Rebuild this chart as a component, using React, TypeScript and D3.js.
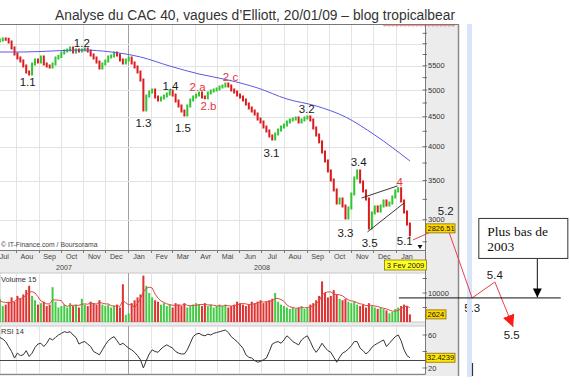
import React from 'react';
import * as d3 from 'd3';

// ---------- data ----------
const startDate = '2007-07-02';
const stepDays = 4;

const closes = [
  6040, 6064, 6088, 6112, 6105, 6040, 5899, 5761, 5671, 5605,
  5495, 5367, 5325, 5539, 5627, 5583, 5694, 5539, 5495, 5474,
  5539, 5671, 5705, 5784, 5830, 5853, 5899, 5807, 5853, 5830,
  5853, 5876, 5830, 5739, 5671, 5583, 5452, 5539, 5605, 5694,
  5716, 5784, 5739, 5627, 5561, 5627, 5671, 5561, 5474, 5367,
  5200, 4622, 4883, 4961, 5000, 4864, 4807, 4845, 4883, 4922,
  4980, 4902, 4788, 4695, 4603, 4531, 4695, 4807, 4864, 4902,
  4941, 4864, 4850, 4941, 4980, 5000, 5020, 5059, 5079, 5119,
  5079, 5000, 4960, 4902, 4864, 4807, 4732, 4658, 4603, 4549,
  4460, 4408, 4322, 4255, 4172, 4123, 4205, 4271, 4322, 4356,
  4408, 4443, 4460, 4478, 4408, 4443, 4478, 4496, 4443, 4305,
  4188, 4076, 3917, 3781, 3635, 3508, 3373, 3204, 3255, 3167,
  3021, 3142, 3320, 3536, 3635, 3481, 3360, 3255, 2904, 3081,
  3155, 3105, 3167, 3230, 3179, 3204, 3281, 3360, 3390, 3230,
  3093, 2950, 2826.51,
];

const volumes = [
  6500, 7500, 8000, 5500, 6000, 7000, 8500, 7000, 9000, 8000,
  9500, 11000, 12500, 9000, 7500, 6000, 6500, 7000, 5500, 6000,
  12000, 7000, 5000, 5500, 6000, 5000, 6500, 5500, 6000, 5000,
  8000, 6000, 5500, 7000, 6500, 6000, 7500, 6000, 5500, 6000,
  5000, 5500, 6000, 5000, 13000, 2500, 3000, 6500, 7500, 8500,
  9500, 16000, 12500, 10000, 8500, 7500, 7000, 6000, 6500, 5500,
  6000, 5000, 6500, 6000, 5500, 6500, 5000, 5500, 6000, 6500,
  6000, 5500, 6500, 5500, 6000, 5000, 5500, 6000, 5500, 6000,
  5000, 5500, 6000, 7000, 6500, 6000, 5500, 6000, 7000, 6500,
  7000, 7500, 6500, 7000, 7500, 8000, 10000, 7000, 6000, 5500,
  5000, 4500, 5000, 4500, 5000, 5500, 4500, 5000, 6000, 6500,
  7500, 9000, 14000, 10000, 8500, 9000, 11000, 9500, 8000, 7500,
  8000, 7000, 6500, 7000, 6000, 5500, 6000, 5000, 6500, 5500,
  5000, 4500, 5000, 4500, 4000, 3000, 3500, 4500, 5000, 5500,
  6000, 5500, 2624,
];

const rsiValues = [
  57, 58, 57, 55, 52, 46, 40, 32, 38, 35,
  36, 41, 34, 38, 45, 49, 50, 46, 50, 56,
  54, 57, 60, 62, 64, 63, 64, 60, 57, 49,
  51, 52, 49, 46, 40, 38, 36, 42, 48, 53,
  56, 58, 53, 48, 50, 47, 44, 42, 39, 35,
  30, 20, 29, 37, 42, 40, 39, 43, 46, 48,
  46, 44, 40, 38, 37, 37, 42, 50, 58, 61,
  62, 60, 59, 61, 60, 62, 63, 64, 65, 66,
  63, 58, 55, 52, 48, 44, 36, 33, 32, 29,
  27, 28, 30, 32, 40, 49, 51, 52, 50, 54,
  59, 56, 52, 50, 48, 54, 57, 59, 52, 44,
  39, 44, 50, 45, 41, 39, 33, 27, 33, 38,
  40, 43, 47, 52, 52, 44, 41, 37, 40, 45,
  48, 50, 52, 54, 46, 50, 54, 58, 60, 53,
  42, 35, 32.4239,
];

const maIndex = [0, 10, 20, 30, 40, 50, 60, 70, 80, 90, 100, 110, 120, 130, 142];
const maValues = [5807, 5807, 5830, 5853, 5807, 5694, 5495, 5325, 5200, 5040, 4826, 4695, 4496, 4188, 3781];

const monthLabels = ['Jul', 'Aou', 'Sep', 'Oct', 'Nov', 'Dec', 'Jan', 'Fev', 'Mar', 'Avr', 'Mai', 'Jun',
  'Jul', 'Aou', 'Sep', 'Oct', 'Nov', 'Dec', 'Jan'];
const yearLabels = ['2007', '2008'];
const priceTickLabels = [5500, 5000, 4500, 4000, 3500, 3000];
const priceGridValues = [6000, 5500, 5000, 4500, 4000, 3500, 3000];
const volumeTickLabels = [10000];
const volumeTicks = [5000, 10000, 15000];
const rsiTicks = [20, 40, 60];
const rsiTickLabels = [20, 60];
const rsiLevel = 30;

const waveTexts = ['1.1', '1.2', '1.3', '1.4', '1.5', '2.a', '2.b', '2.c', '3.1', '3.2', '3.3', '3.4', '3.5', '4', '5.1', '5.2', '5.3', '5.4', '5.5'];
const waveDates = ['2007-08-17', '2007-10-30', '2008-01-22', '2008-02-28', '2008-03-16', '2008-04-05', '2008-04-20', '2008-05-20',
  '2008-07-15', '2008-09-01', '2008-10-24', '2008-11-11', '2008-11-26', '2009-01-06', '2009-01-13', '2009-03-10',
  '2009-04-15', '2009-05-16', '2009-06-08'];
const waveValues = [5079, 5922, 4322, 5000, 4238, 4980, 4622, 5180, 3841, 4567, 2803, 3707, 2695, 3427, 2716, 3057, 2085, 2376, 1876];

const projectionDates = ['2009-01-24', '2009-03-11', '2009-04-15', '2009-05-16', '2009-06-10'];
const projectionValues = [2770, 2939, 2205, 2348, 1967];

const wedgeUpperDates = ['2008-11-15', '2009-01-03'];
const wedgeUpperValues = [3268, 3427];
const wedgeLowerDates = ['2008-11-23', '2009-01-12'];
const wedgeLowerValues = [2859, 3204];

const supportValue = 2205;
const supportDates = ['2009-01-05', '2009-08-14'];
const supportArrowDate = '2009-07-13';
const supportText = ['Plus bas de', '2003'];

const lastPriceLabel = '2826.51';
const lastVolumeLabel = '2624';
const lastRsiLabel = '32.4239';
const cursorDateLabel = '3 Fev 2009';
const titleText = "Analyse du CAC 40, vagues d\u2019Elliott, 20/01/09 \u2013 blog tropicalbear";
const sourceText = '\u00a9 IT-Finance.com / Boursorama';

// ---------- component ----------
const sans = "'Liberation Sans', Arial, Helvetica, sans-serif";
const serif = "'Liberation Serif', 'Times New Roman', serif";

export default function App() {
  const W = 570, H = 392;
  const parse = d3.timeParse('%Y-%m-%d');
  const t0 = parse(startDate) as Date;
  const dates = closes.map((_, i) => d3.timeDay.offset(t0, i * stepDays));

  const x = d3.scaleTime().domain([new Date(2008, 0, 1), new Date(2009, 0, 1)]).range([128, 396]);
  const yP = d3.scaleLog().domain([2663, 6458]).range([250, 25]);
  const yV = d3.scaleLinear().domain([0, 16900]).range([322, 273]);
  const yR = d3.scaleLinear().domain([12.7, 70.9]).range([374, 326]);

  const pL = 0, pR = 425.5;
  const priceTop = 25, priceBot = 250;
  const volTop = 273, volBot = 322;
  const rsiTop = 326, rsiBot = 374;
  const chartRight = 459;

  const months = d3.timeMonth.range(new Date(2007, 6, 1), new Date(2009, 1, 1));
  const years = [new Date(2007, 0, 1), new Date(2008, 0, 1), new Date(2009, 0, 1)];

  const green = '#2fc52f';
  const red = '#dc1c1c';

  const maLine = d3.line<number>()
    .x((_, k) => x(dates[maIndex[k]]))
    .y((v) => yP(v))
    .curve(d3.curveMonotoneX)(maValues) as string;

  const volMA = volumes.map((_, i) => {
    const s = volumes.slice(Math.max(0, i - 3), i + 1);
    return d3.mean(s) as number;
  });
  const volMALine = d3.line<number>().x((_, i) => x(dates[i])).y((v) => yV(v))(volMA) as string;
  const rsiLine = d3.line<number>().x((_, i) => x(dates[i])).y((v) => yR(v))(rsiValues) as string;

  const projPts = projectionDates.map((d, k) => [x(parse(d) as Date), yP(projectionValues[k])] as [number, number]);
  const projPath = d3.line()(projPts) as string;

  const wedge = (ds: string[], vs: number[]) => ds.map((d, k) => [x(parse(d) as Date), yP(vs[k])] as [number, number]);
  const wU = wedge(wedgeUpperDates, wedgeUpperValues);
  const wL = wedge(wedgeLowerDates, wedgeLowerValues);

  const supY = yP(supportValue);
  const supX1 = x(parse(supportDates[0]) as Date);
  const supX2 = x(parse(supportDates[1]) as Date);
  const arrowX = x(parse(supportArrowDate) as Date);
  const boxW = 89, boxH = 40;
  const boxX = arrowX - 59;
  const boxY = supY - 80;

  const redWaves = new Set(['2.a', '2.b', '2.c', '4']);

  const lastClose = closes[closes.length - 1];
  const lastVol = volumes[volumes.length - 1];
  const lastRsi = rsiValues[rsiValues.length - 1];

  const squig: [number, number][] = d3.range(0, 37).map((k) => [383 + k * 2, k % 2 ? 26.2 : 24.8]);

  const axisColor = '#7a7a7a';
  const gridColor = '#e3e3e3';

  return (
    <svg width={W} height={H} style={{ position: 'absolute', left: 0, top: 0, background: '#fff' }} fontFamily={sans}>
      <defs>
        <clipPath id="pClip"><rect x={pL} y={priceTop} width={pR - pL} height={priceBot - priceTop} /></clipPath>
        <clipPath id="vClip"><rect x={pL} y={volTop} width={pR - pL} height={volBot - volTop} /></clipPath>
        <clipPath id="rClip"><rect x={pL} y={rsiTop} width={pR - pL} height={rsiBot - rsiTop} /></clipPath>
        <marker id="redArrow" viewBox="0 0 10 10" refX="10" refY="5" markerWidth="12" markerHeight="12" markerUnits="userSpaceOnUse" orient="auto">
          <path d="M0,0 L10,5 L0,10 z" fill="#ff1a1a" />
        </marker>
        <marker id="blackArrow" viewBox="0 0 10 10" refX="10" refY="5" markerWidth="9" markerHeight="9" markerUnits="userSpaceOnUse" orient="auto">
          <path d="M0,0 L10,5 L0,10 z" fill="#000" />
        </marker>
      </defs>

      <rect x={0} y={0} width={W} height={H} fill="#fff" />
      <rect x={0} y={24} width={chartRight} height={376 - 24} fill="#ececec" />
      <rect x={pL} y={priceTop} width={pR - pL} height={priceBot - priceTop} fill="#fff" />
      <rect x={pL} y={volTop} width={pR - pL} height={volBot - volTop} fill="#fff" stroke="#c8c8c8" strokeWidth={1} />
      <rect x={pL} y={rsiTop} width={pR - pL} height={rsiBot - rsiTop} fill="#fff" stroke="#c8c8c8" strokeWidth={1} />

      {months.map((m, k) => {
        const xx = Math.round(x(m)) + 0.5;
        if (xx < 0 || xx > pR) return null;
        const isYear = m.getMonth() === 0 && m.getFullYear() === 2008;
        const col = isYear ? '#a0a0a0' : gridColor;
        return (
          <g key={'mg' + k}>
            <line x1={xx} x2={xx} y1={priceTop} y2={priceBot} stroke={col} />
            <line x1={xx} x2={xx} y1={volTop} y2={volBot} stroke={col} />
            <line x1={xx} x2={xx} y1={rsiTop} y2={rsiBot} stroke={col} />
            <line x1={xx} x2={xx} y1={priceBot} y2={priceBot + 3} stroke={axisColor} />
          </g>
        );
      })}
      {priceGridValues.map((v) => (
        <line key={'hg' + v} x1={pL} x2={pR} y1={Math.round(yP(v)) + 0.5} y2={Math.round(yP(v)) + 0.5} stroke={gridColor} />
      ))}

      <g clipPath="url(#pClip)">
        {dates.map((d, i) => {
          const o = i ? closes[i - 1] : closes[i];
          const c = closes[i];
          const up = c >= o;
          const y1 = yP(Math.max(o, c)) - 1.5;
          const y2 = yP(Math.min(o, c)) + 1.5;
          return <rect key={'c' + i} x={x(d) - 1} y={y1} width={2} height={y2 - y1} fill={up ? green : red} />;
        })}
        <path d={maLine} fill="none" stroke="#5a5ae0" strokeWidth={1} />
        <line x1={wU[0][0]} y1={wU[0][1]} x2={wU[1][0]} y2={wU[1][1]} stroke="#222" strokeWidth={0.9} />
        <line x1={wL[0][0]} y1={wL[0][1]} x2={wL[1][0]} y2={wL[1][1]} stroke="#222" strokeWidth={0.9} />
      </g>

      <g clipPath="url(#vClip)">
        {dates.map((d, i) => {
          const o = i ? closes[i - 1] : closes[i];
          const up = closes[i] >= o;
          return <rect key={'v' + i} x={x(d) - 1} y={yV(volumes[i])} width={2} height={volBot - yV(volumes[i])} fill={up ? green : red} opacity={0.9} />;
        })}
        <path d={volMALine} fill="none" stroke="#e04848" strokeWidth={1} />
      </g>

      <g clipPath="url(#rClip)">
        <line x1={pL} x2={pR} y1={Math.round(yR(rsiLevel)) + 0.5} y2={Math.round(yR(rsiLevel)) + 0.5} stroke="#444" strokeWidth={1} />
        <path d={rsiLine} fill="none" stroke="#333" strokeWidth={1} />
      </g>
      <line x1={pL} x2={pR} y1={rsiBot + 0.5} y2={rsiBot + 0.5} stroke="#888" />

      <line x1={pL} x2={pR} y1={priceBot + 0.5} y2={priceBot + 0.5} stroke={axisColor} />
      <line x1={pR} x2={pR} y1={priceTop} y2={rsiBot} stroke={axisColor} />
      <line x1={0} x2={chartRight} y1={24.5} y2={24.5} stroke="#777" />
      <line x1={chartRight - 0.5} x2={chartRight - 0.5} y1={24} y2={376} stroke="#8a8a8a" strokeWidth={1.5} />

      {d3.range(2750, 6500, 250).map((v) => (
        <line key={'pt' + v} x1={pR - 3} x2={pR + 1.5} y1={yP(v)} y2={yP(v)} stroke="#555" strokeWidth={0.8} />
      ))}
      {priceTickLabels.map((v) => (
        <text key={'pl' + v} x={pR + 2.5} y={yP(v)} dy="0.35em" fontSize={7.5} fill="#333">{v}</text>
      ))}
      {volumeTicks.map((v) => (
        <line key={'vt' + v} x1={pR - 3} x2={pR + 1.5} y1={yV(v)} y2={yV(v)} stroke="#555" strokeWidth={0.8} />
      ))}
      {volumeTickLabels.map((v) => (
        <text key={'vl' + v} x={pR + 2.5} y={yV(v)} dy="0.35em" fontSize={7.5} fill="#333">{v}</text>
      ))}
      {rsiTicks.map((v) => (
        <line key={'rt' + v} x1={pR - 3} x2={pR + 1.5} y1={yR(v)} y2={yR(v)} stroke="#555" strokeWidth={0.8} />
      ))}
      {rsiTickLabels.map((v) => (
        <text key={'rl' + v} x={pR + 2.5} y={yR(v)} dy="0.35em" fontSize={7.5} fill="#333">{v}</text>
      ))}

      {months.map((m, k) => {
        const cx = x(d3.timeDay.offset(m, 15));
        if (cx < 0 || cx > pR) return null;
        return <text key={'ml' + k} x={cx} y={258.5} textAnchor="middle" fontSize={7.2} fill="#444">{monthLabels[k]}</text>;
      })}
      {yearLabels.map((lab, k) => {
        const a = Math.max(pL, x(years[k]));
        const b = Math.min(pR, x(years[k + 1]));
        return <text key={'yl' + k} x={(a + b) / 2} y={270} textAnchor="middle" fontSize={7.2} fill="#444">{lab}</text>;
      })}

      <text x={1} y={247} fontSize={6.8} fill="#444">{sourceText}</text>
      <text x={1} y={282} fontSize={7.5} fill="#333">Volume 15</text>
      <text x={1} y={334} fontSize={7.5} fill="#333">RSI 14</text>

      {waveTexts.map((t, k) => (
        <text key={'w' + k} x={x(parse(waveDates[k]) as Date)} y={yP(waveValues[k])} textAnchor="middle"
          fontSize={11.5} fill={redWaves.has(t) ? '#e8323c' : '#1a1a1a'}>{t}</text>
      ))}

      <rect x={467} y={24} width={5} height={353} fill="#d9e4f9" />
      <line x1={472.5} x2={472.5} y1={363} y2={376} stroke="#333" strokeWidth={1.2} />

      <path d={projPath} fill="none" stroke="#e8404a" strokeWidth={1} markerEnd="url(#redArrow)" />
      <line x1={supX1} x2={supX2} y1={supY} y2={supY} stroke="#111" strokeWidth={1} />
      <line x1={arrowX} x2={arrowX} y1={boxY + boxH} y2={supY - 0.5} stroke="#111" strokeWidth={1} markerEnd="url(#blackArrow)" />
      <rect x={boxX + 0.5} y={boxY + 0.5} width={boxW} height={boxH} fill="#fff" stroke="#333" strokeWidth={1} />
      {supportText.map((t, k) => (
        <text key={'st' + k} x={boxX + 9} y={boxY + 18 + k * 15} fontSize={13.5} fontFamily={serif} fill="#111">{t}</text>
      ))}

      <g>
        <rect x={pR + 0.5} y={yP(lastClose) - 11} width={29} height={9} fill="#ffd800" stroke="#8a6d00" strokeWidth={0.8} />
        <text x={pR + 2} y={yP(lastClose) - 6.5} dy="0.35em" fontSize={7.5} fill="#111">{lastPriceLabel}</text>
        <rect x={pR + 0.5} y={yV(lastVol) - 4.5} width={20} height={9} fill="#ffd800" stroke="#8a6d00" strokeWidth={0.8} />
        <text x={pR + 2} y={yV(lastVol)} dy="0.35em" fontSize={7.5} fill="#111">{lastVolumeLabel}</text>
        <rect x={pR + 0.5} y={yR(lastRsi) - 4.5} width={29} height={9} fill="#ffe800" stroke="#8a6d00" strokeWidth={0.8} />
        <text x={pR + 1.5} y={yR(lastRsi)} dy="0.35em" fontSize={7.5} fill="#111">{lastRsiLabel}</text>
        <rect x={pR - 41} y={priceBot + 10} width={42} height={10} fill="#ffff20" stroke="#8a7a00" strokeWidth={0.8} />
        <text x={pR - 20} y={priceBot + 15} dy="0.35em" textAnchor="middle" fontSize={7.5} fill="#111">{cursorDateLabel}</text>
        <path d={`M${pR - 8},${priceBot - 5} l5,0 l-2.5,4 z`} fill="#111" />
      </g>

      <text x={55} y={20} fontSize={14} fill="#333" textLength={400} lengthAdjust="spacingAndGlyphs">{titleText}</text>
      <polyline points={squig.map((p) => p.join(',')).join(' ')} fill="none" stroke="#e05050" strokeWidth={0.8} />
    </svg>
  );
}
